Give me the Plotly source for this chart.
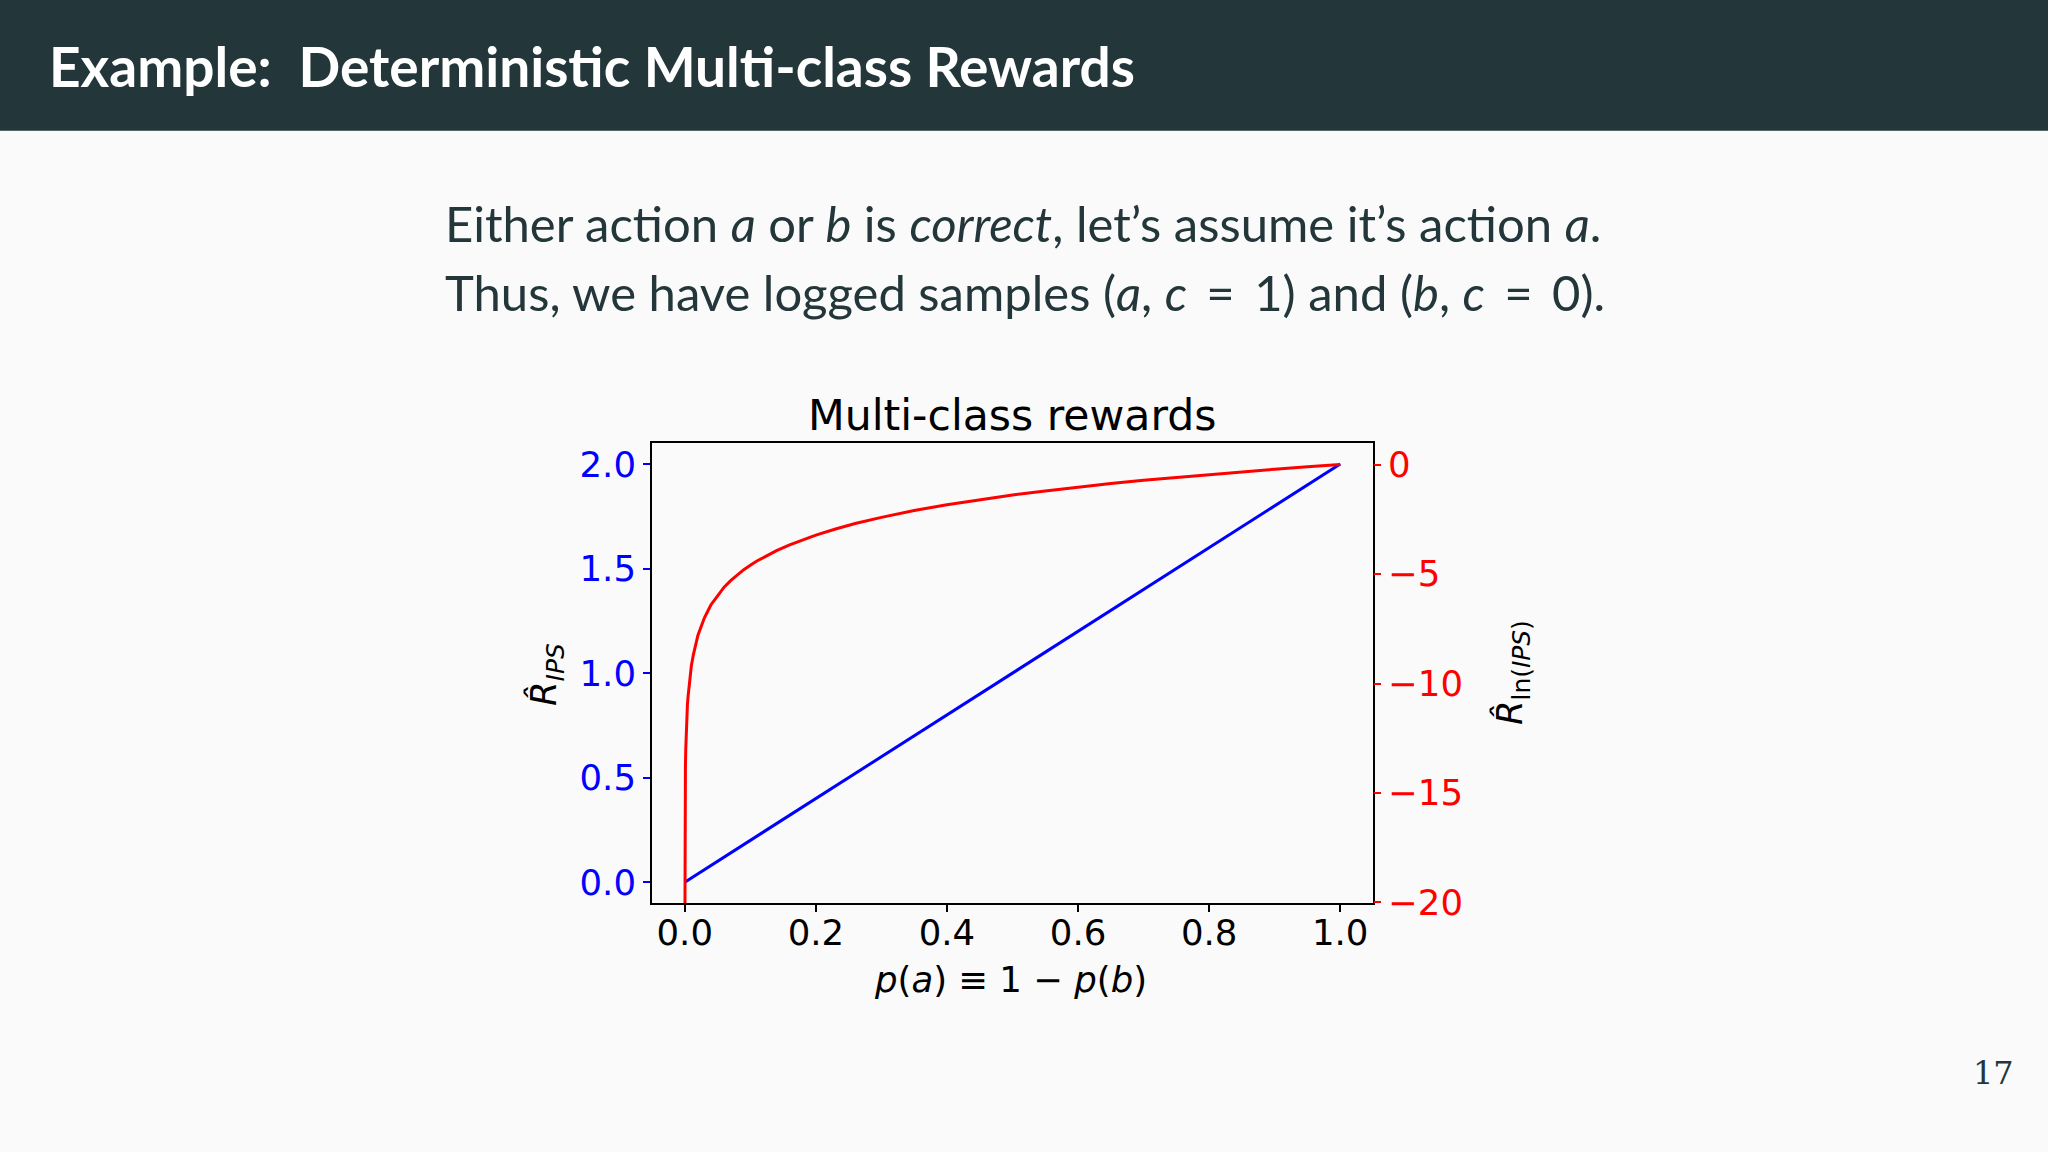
import plotly.graph_objects as go

# page text
SLIDE_TITLE = "Example:  Deterministic Multi-class Rewards"
LINE_1 = "Either action <i>a</i> or <i>b</i> is <i>correct</i>, let’s assume it’s action <i>a</i>."
LINE_2 = ("Thus, we have logged samples (<i>a</i>, <i>c</i>\u2004\u200a=\u2004\u200a1) and "
          "(<i>b</i>, <i>c</i>\u2004\u200a=\u2004\u200a0).")
PAGE_NO = "17"

# chart data
p_blue = [0.0, 1.0]
r_ips = [0.0, 2.0]

p_red = [0.00001, 0.00005, 0.0001, 0.0003, 0.0005, 0.001, 0.0015, 0.002,
         0.003, 0.004, 0.005, 0.007, 0.01, 0.013, 0.016, 0.02, 0.025, 0.03,
         0.035, 0.04, 0.045, 0.05, 0.06, 0.07, 0.08, 0.09, 0.1, 0.11, 0.12,
         0.14, 0.16, 0.18, 0.2, 0.23, 0.26, 0.3, 0.35, 0.4, 0.45, 0.5, 0.55,
         0.6, 0.65, 0.7, 0.75, 0.8, 0.85, 0.9, 0.95, 1.0]
r_ln_ips = [-23.0, -19.8, -18.4, -16.2, -15.2, -13.8, -13.0, -12.4,
            -11.6, -11.0, -10.6, -9.9, -9.2, -8.7, -8.3, -7.8, -7.4, -7.0,
            -6.7, -6.4, -6.2, -6.0, -5.6, -5.3, -5.05, -4.8, -4.6, -4.4, -4.25,
            -3.93, -3.67, -3.43, -3.22, -2.94, -2.69, -2.41, -2.1, -1.83, -1.6, -1.39, -1.2,
            -1.02, -0.86, -0.71, -0.58, -0.45, -0.33, -0.21, -0.1, 0.0]

x_ticks = [0.0, 0.2, 0.4, 0.6, 0.8, 1.0]
y_ticks = [0.0, 0.5, 1.0, 1.5, 2.0]
y2_ticks = [0, -5, -10, -15, -20]

W, H = 2048, 1152
BG = "#FAFAFA"
DARK = "#23373B"
MPL_FONT = "DejaVu Sans"
TICK_SIZE = 35.5


def px(x):
    return x / W


def py(y):
    return 1 - y / H


fig = go.Figure()
fig.add_trace(go.Scatter(x=p_blue, y=r_ips, mode="lines",
                         line=dict(color="#0000FF", width=3),
                         yaxis="y", showlegend=False))
fig.add_trace(go.Scatter(x=p_red, y=r_ln_ips, mode="lines",
                         line=dict(color="#FF0000", width=3),
                         yaxis="y2", showlegend=False))

fig.update_layout(
    autosize=True,
    margin=dict(l=0, r=0, t=0, b=0),
    paper_bgcolor=BG,
    plot_bgcolor=BG,
    xaxis=dict(
        domain=[px(652), px(1373)],
        range=[-0.05, 1.05],
        tickvals=x_ticks,
        ticktext=["%.1f" % v for v in x_ticks],
        ticks="outside", ticklen=7, tickwidth=1.6, tickcolor="black",
        ticklabelstandoff=-10,
        tickfont=dict(family=MPL_FONT, size=TICK_SIZE, color="black"),
        showline=True, linecolor="black", linewidth=1.8, mirror=True,
        showgrid=False, zeroline=False,
    ),
    yaxis=dict(
        domain=[py(919), py(451)],
        range=[-0.1, 2.1],
        tickvals=y_ticks,
        ticktext=["%.1f" % v for v in y_ticks],
        ticks="outside", ticklen=7, tickwidth=1.6, tickcolor="#0000FF",
        tickfont=dict(family=MPL_FONT, size=TICK_SIZE, color="#0000FF"),
        showline=True, linecolor="black", linewidth=1.8, mirror=True,
        showgrid=False, zeroline=False,
    ),
    yaxis2=dict(
        overlaying="y", side="right", anchor="x",
        range=[-20.03, 0.98],
        tickvals=y2_ticks,
        ticktext=[("−%d" % -v) if v < 0 else "%d" % v for v in y2_ticks],
        ticks="outside", ticklen=7, tickwidth=1.6, tickcolor="#FF0000",
        tickfont=dict(family=MPL_FONT, size=TICK_SIZE, color="#FF0000"),
        showline=False, showgrid=False, zeroline=False,
    ),
)

# header bar
fig.add_shape(type="rect", xref="paper", yref="paper",
              x0=0, x1=1, y0=py(133), y1=1,
              fillcolor=DARK, line=dict(width=0), layer="below")

ann = [
    dict(text="<b>" + SLIDE_TITLE + "</b>", x=px(47), y=py(67), xanchor="left",
         yanchor="middle", font=dict(family="Lato", size=55, color="white")),
    dict(text=LINE_1, x=px(443), y=py(227), xanchor="left", yanchor="middle",
         font=dict(family="Lato", size=49, color=DARK)),
    dict(text=LINE_2, x=px(443), y=py(297), xanchor="left", yanchor="middle",
         font=dict(family="Lato", size=49, color=DARK)),
    dict(text=PAGE_NO, x=px(1993), y=py(1092), xanchor="center", yanchor="middle",
         font=dict(family="DejaVu Serif", size=32, color=DARK)),
    # chart title and axis labels
    dict(text="Multi-class rewards", x=px(1012), y=py(422), xanchor="center",
         yanchor="middle", font=dict(family=MPL_FONT, size=42.6, color="black")),
    dict(text="<i>p</i>(<i>a</i>) ≡ 1 − <i>p</i>(<i>b</i>)", x=px(1010), y=py(997),
         xanchor="center", yanchor="middle",
         font=dict(family=MPL_FONT, size=TICK_SIZE, color="black")),
    dict(text="<i>R̂</i><sub><i>IPS</i></sub>", x=px(546), y=py(687),
         xanchor="center", yanchor="middle", textangle=-90,
         font=dict(family=MPL_FONT, size=TICK_SIZE, color="black")),
    dict(text="<i>R̂</i><sub>ln(<i>IPS</i>)</sub>", x=px(1512), y=py(685),
         xanchor="center", yanchor="middle", textangle=-90,
         font=dict(family=MPL_FONT, size=TICK_SIZE, color="black")),
]
for a in ann:
    a.update(xref="paper", yref="paper", showarrow=False)
    fig.add_annotation(**a)

# let the figure fill the browser window exactly
page_js = (
    "document.documentElement.style.overflow='hidden';"
    "document.body.style.margin='0';"
    "document.body.style.overflow='hidden';"
)
fig.write_html("out.html", post_script=page_js,
               default_width="100vw", default_height="100vh",
               config={"displayModeBar": False, "responsive": True})
